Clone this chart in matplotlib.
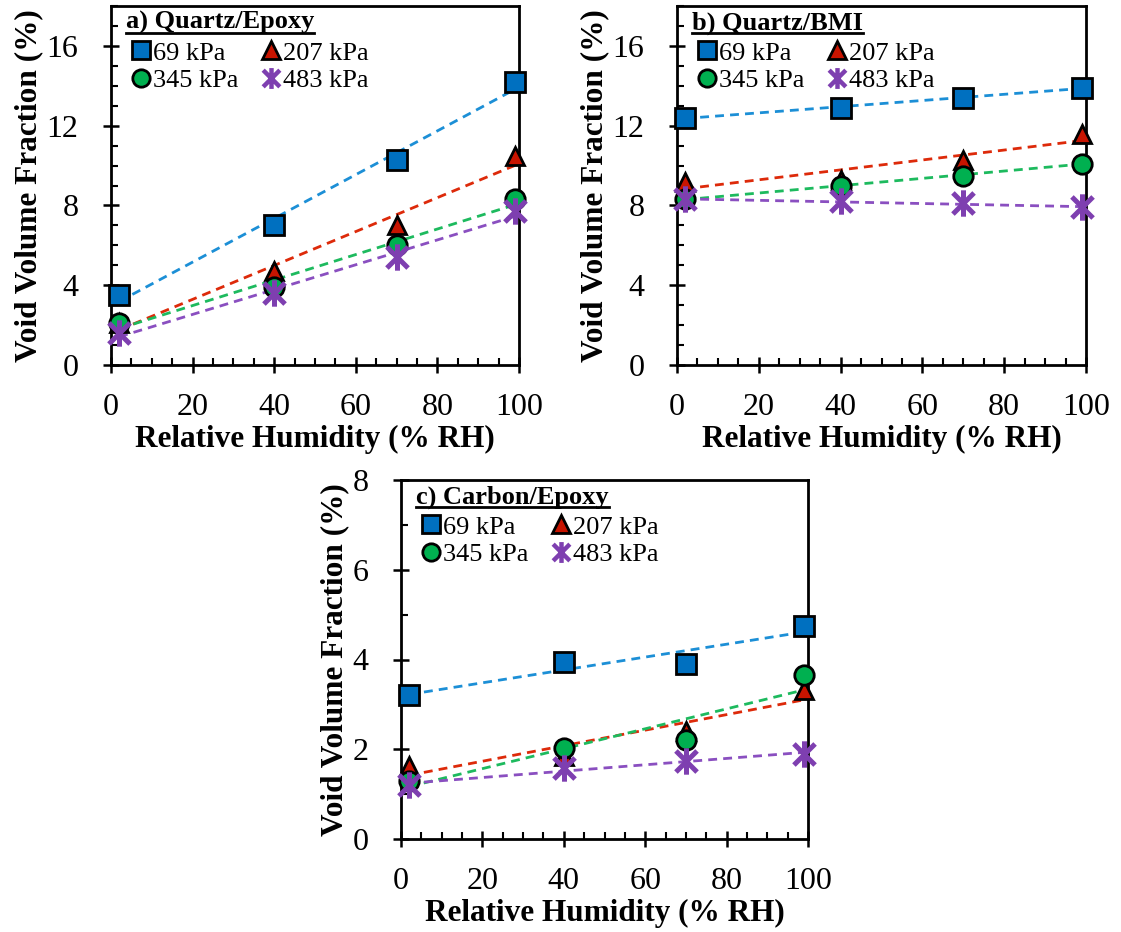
import numpy as np
import matplotlib.pyplot as plt
from matplotlib.path import Path
from matplotlib.ticker import MultipleLocator
from matplotlib.lines import Line2D

plt.rcParams['font.family'] = ['Liberation Serif', 'DejaVu Serif']

rh = [2, 40, 70, 99]
pressures = ['69 kPa', '207 kPa', '345 kPa', '483 kPa']

# a) Quartz/Epoxy
qe_69 = [3.5, 7.0, 10.3, 14.2]
qe_207 = [2.1, 4.7, 7.0, 10.5]
qe_345 = [2.1, 3.9, 6.0, 8.3]
qe_483 = [1.6, 3.6, 5.4, 7.7]

# b) Quartz/BMI
qb_69 = [12.4, 12.9, 13.4, 13.9]
qb_207 = [9.2, 9.3, 10.3, 11.6]
qb_345 = [8.3, 9.0, 9.5, 10.1]
qb_483 = [8.3, 8.2, 8.1, 7.9]

# c) Carbon/Epoxy
ce_69 = [3.2, 3.95, 3.9, 4.75]
ce_207 = [1.62, 1.85, 2.4, 3.33]
ce_345 = [1.3, 2.03, 2.2, 3.65]
ce_483 = [1.2, 1.58, 1.73, 1.9]

colors = ['#0070C0', '#C81400', '#00B050', '#7E3FB0']
line_colors = ['#1C8FD6', '#DD2A0A', '#1DBA5E', '#8A4FC0']

star = Path([(-1, -1), (1, 1), (-1, 1), (1, -1), (0, -1.25), (0, 1.25)],
            [Path.MOVETO, Path.LINETO, Path.MOVETO, Path.LINETO, Path.MOVETO, Path.LINETO])
markers = ['s', '^', 'o', star]
sizes = [14, 13, 14, 19]

fig = plt.figure(figsize=(11.21, 9.32), dpi=100)
W, H = 1121, 932


def add_axes(left, top, right, bottom):
    return fig.add_axes([left / W, 1 - bottom / H, (right - left) / W, (bottom - top) / H])


def panel(ax, title, series, ymax, ymajor):
    for i, vals in enumerate(series):
        k, b = np.polyfit(rh, vals, 1)
        xs = np.array([rh[0], rh[-1]])
        ax.plot(xs, k * xs + b, ls=(0, (3.2, 2.2)), color=line_colors[i], lw=2.0, zorder=2)
    for i, vals in enumerate(series):
        if i == 3:
            ax.plot(rh, vals, ls='none', marker=markers[i], ms=sizes[i], mfc='none',
                    mec=colors[i], mew=3.6, zorder=3, clip_on=False)
        else:
            ax.plot(rh, vals, ls='none', marker=markers[i], ms=sizes[i], mfc=colors[i],
                    mec='black', mew=2.0, zorder=3, clip_on=False)

    ax.set_xlim(0, 100)
    ax.set_ylim(0, ymax)
    ax.xaxis.set_major_locator(MultipleLocator(20))
    ax.xaxis.set_minor_locator(MultipleLocator(5))
    ax.yaxis.set_major_locator(MultipleLocator(ymajor))
    ax.yaxis.set_minor_locator(MultipleLocator(1))
    ax.tick_params(which='major', direction='inout', length=11, width=1.8, labelsize=23)
    ax.tick_params(axis='x', which='major', pad=15)
    ax.tick_params(axis='y', which='major', pad=18)
    ax.tick_params(which='minor', direction='in', length=5, width=1.5)
    for s in ax.spines.values():
        s.set_linewidth(2.0)
    ax.set_xlabel('Relative Humidity (% RH)', fontsize=22.5, fontweight='bold', labelpad=1.5)
    ax.set_ylabel('Void Volume Fraction (%)', fontsize=22.5, fontweight='bold', labelpad=2)

    t = ax.text(0.037, 0.985, title, transform=ax.transAxes, fontsize=19,
                fontweight='bold', va='top', ha='left')

    handles = []
    for i in range(4):
        if i == 3:
            h = Line2D([], [], ls='none', marker=markers[i], ms=15, mfc='none',
                       mec=colors[i], mew=3.2)
        else:
            h = Line2D([], [], ls='none', marker=markers[i], ms=12.5, mfc=colors[i],
                       mec='black', mew=2.0)
        handles.append(h)
    order = [0, 2, 1, 3]
    ax.legend([handles[j] for j in order], [pressures[j] for j in order],
              loc='upper left', bbox_to_anchor=(0.05, 0.902), ncol=2, frameon=False,
              fontsize=19, handlelength=0.75, handletextpad=0.08, columnspacing=0.85,
              labelspacing=0.16, borderpad=0, borderaxespad=0)
    return t


ta = panel(add_axes(111, 6, 519, 365), 'a) Quartz/Epoxy', [qe_69, qe_207, qe_345, qe_483], 18, 4)
tb = panel(add_axes(677, 6, 1086, 365), 'b) Quartz/BMI', [qb_69, qb_207, qb_345, qb_483], 18, 4)
tc = panel(add_axes(401, 480, 808, 839), 'c) Carbon/Epoxy', [ce_69, ce_207, ce_345, ce_483], 8, 2)

# underline the panel titles
fig.canvas.draw()
renderer = fig.canvas.get_renderer()
for t in [ta, tb, tc]:
    bb = t.get_window_extent(renderer).transformed(fig.transFigure.inverted())
    fig.add_artist(Line2D([bb.x0, bb.x1], [bb.y0 + 0.002, bb.y0 + 0.002],
                          transform=fig.transFigure, color='black', lw=2.0))

fig.savefig('out.png', dpi=100)
